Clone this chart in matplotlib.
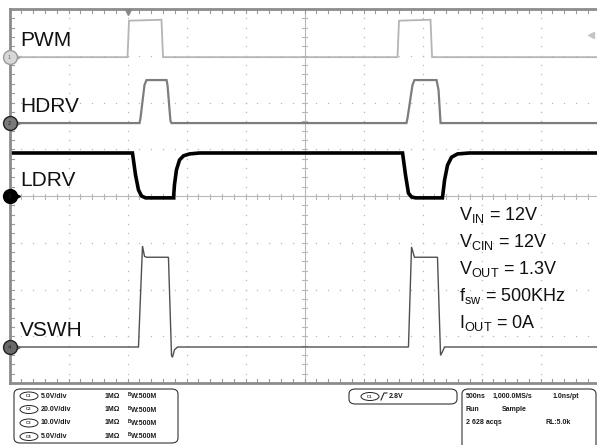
import matplotlib
matplotlib.use("Agg")
import matplotlib.pyplot as plt
from matplotlib.patches import FancyBboxPatch, Ellipse
from matplotlib.lines import Line2D

plt.rcParams['font.family'] = ['Liberation Sans', 'DejaVu Sans']
plt.rcParams['mathtext.fontset'] = 'custom'
plt.rcParams['mathtext.rm'] = 'Liberation Sans'
plt.rcParams['mathtext.it'] = 'Liberation Sans'

# ---- scope settings ----
ns_per_div = 500
volts_per_div = [5.0, 20.0, 10.0, 5.0]
offsets_div = [2.97, 1.56, 0.0, -3.23]      # channel ground positions (divisions)
channel_names = ["PWM", "HDRV", "LDRV", "VSWH"]

# ---- waveform data (time in ns from left edge, volts) ----
pwm_t = [0, 1000, 1013, 1288, 1301, 3288, 3301, 3568, 3581, 5000]
pwm_v = [0, 0, 3.9, 4.0, 0, 0, 3.9, 4.0, 0, 0]

hdrv_t = [0, 1102, 1110, 1144, 1161, 1331, 1339, 1364, 1373,
          3364, 3373, 3415, 3432, 3619, 3636, 3653, 5000]
hdrv_v = [0, 0, 2.1, 16.3, 18.4, 18.4, 16.3, 0.9, 0,
          0, 2.1, 16.3, 18.4, 18.4, 14.1, 0, 0]

ldrv_t = [0, 1042, 1068, 1093, 1119, 1153, 1390, 1398, 1415, 1441, 1475, 1525, 1610,
          3331, 3356, 3381, 3407, 3441, 3669, 3687, 3712, 3746, 3797, 3898, 5000]
ldrv_v = [9.2, 9.2, 4.5, 1.3, 0.0, -0.4, -0.4, 2.4, 5.6, 7.7, 8.6, 9.0, 9.2,
          9.2, 4.5, 0.6, -0.2, -0.4, -0.4, 3.4, 6.6, 8.3, 9.0, 9.2, 9.2]

vswh_t = [0, 1093, 1127, 1144, 1161, 1347, 1373, 1381, 1398, 1424,
          3381, 3407, 3432, 3627, 3653, 3669, 3687, 5000]
vswh_v = [0, 0, 10.8, 9.7, 9.6, 9.6, -0.9, -1.1, -0.3, 0,
          0, 10.7, 9.6, 9.6, -0.9, -0.5, 0, 0]

trigger_t = 1000
trigger_level = 2.8

annotations = [r"V$_{\rm IN}$ = 12V", r"V$_{\rm CIN}$ = 12V", r"V$_{\rm OUT}$ = 1.3V",
               r"f$_{\rm sw}$ = 500KHz", r"I$_{\rm OUT}$ = 0A"]

# ---- figure ----
W, H = 597, 445
fig = plt.figure(figsize=(W / 100, H / 100), dpi=100)
fig.patch.set_facecolor("white")
ax = fig.add_axes([9.5 / W, 1 - 383 / H, 590 / W, 374 / H])
ax.set_xlim(0, 10)
ax.set_ylim(-4, 4)
ax.set_xticks([]); ax.set_yticks([])
for s in ax.spines.values():
    s.set_color("#8c8c8c"); s.set_linewidth(2)

gridc = "#b8b8b8"
# dotted graticule
for i in range(1, 10):
    if i == 5:
        continue
    ys = [-4 + k * 0.2 for k in range(41)]
    ax.plot([i] * len(ys), ys, ls="none", marker="s", ms=0.9, color=gridc, mew=0)
for j in range(-3, 4):
    if j == 0:
        continue
    xs = [k * 0.2 for k in range(51)]
    ax.plot(xs, [j] * len(xs), ls="none", marker="s", ms=0.9, color=gridc, mew=0)
# center crosshair
ax.axvline(5, color=gridc, lw=0.8)
ax.axhline(0, color=gridc, lw=0.8)
tx = 2.5 / 59
ty = 2.5 / 46.75
for k in range(51):
    x = k * 0.2
    ax.plot([x, x], [-ty, ty], color=gridc, lw=0.8)
    ax.plot([x, x], [-4, -4 + 1.6 * ty], color="#999999", lw=0.8)
    ax.plot([x, x], [4, 4 - 1.6 * ty], color="#999999", lw=0.8)
for k in range(41):
    y = -4 + k * 0.2
    ax.plot([5 - tx, 5 + tx], [y, y], color=gridc, lw=0.8)
    ax.plot([0, 1.6 * tx], [y, y], color="#999999", lw=0.8)

# ---- traces ----
def to_div(ts, vs, ch):
    return ([t / ns_per_div for t in ts],
            [offsets_div[ch] + v / volts_per_div[ch] for v in vs])

colors = ["#b5b5b5", "#7d7d7d", "#000000", "#505050"]
widths = [1.3, 1.6, 2.6, 1.0]
for ch, (ts, vs) in enumerate([(pwm_t, pwm_v), (hdrv_t, hdrv_v),
                               (ldrv_t, ldrv_v), (vswh_t, vswh_v)]):
    xs, ys = to_div(ts, vs, ch)
    ax.plot(xs, ys, color=colors[ch], lw=widths[ch], solid_joinstyle="miter")

# channel ground markers
mfc = ["#d8d8d8", "#7a7a7a", "#000000", "#6a6a6a"]
mec = ["#9a9a9a", "#202020", "#000000", "#202020"]
for ch in range(4):
    y = offsets_div[ch]
    ax.plot([0.12], [y], marker=">", ms=4, color=mfc[ch] if ch != 0 else "#aaaaaa",
            clip_on=False, zorder=5)
    ax.plot([0], [y], marker="o", ms=10, mfc=mfc[ch], mec=mec[ch], mew=1,
            clip_on=False, zorder=6)
    ax.text(0, y, str(ch + 1), fontsize=4, ha="center", va="center",
            color="#666666" if ch == 0 else "#222222", zorder=7, clip_on=False)

# trigger markers
ax.plot([trigger_t / ns_per_div], [3.93], marker="v", ms=5, color="#888888",
        clip_on=False, zorder=6)
ax.plot([9.86], [offsets_div[0] + trigger_level / volts_per_div[0] - 0.08], marker="<",
        ms=4, color="#c4c4c4", clip_on=False, zorder=6)

# channel labels
label_y = [40, 106, 180, 330]
for name, py in zip(channel_names, label_y):
    fig.text(20 / W, 1 - py / H, name, fontsize=15, ha="left", va="center",
             color="#111111")

# condition annotations
base_y = [220, 247, 274, 301, 328]
for txt, py in zip(annotations, base_y):
    fig.text(459 / W, 1 - py / H, txt, fontsize=13, ha="left", va="baseline",
             color="#111111")

# ---- bottom status panel ----
def box(x0, y0, x1, y1):
    p = FancyBboxPatch((x0 / W, 1 - y1 / H), (x1 - x0) / W, (y1 - y0) / H,
                       boxstyle="round,pad=0,rounding_size=0.011",
                       transform=fig.transFigure, fc="white", ec="#333333", lw=0.8,
                       clip_on=False)
    fig.add_artist(p)

box(14, 389, 178, 443)
box(349, 389, 457, 404)
box(462, 389, 596, 452)

tc = "#1a1a1a"

def badge(cx, py, label):
    e = Ellipse((cx / W, 1 - py / H), 18 / W, 8 / H, transform=fig.transFigure,
                fc="white", ec="#222222", lw=0.7)
    fig.add_artist(e)
    fig.text(cx / W, 1 - py / H, label, fontsize=3.2, ha="center", va="center",
             weight="bold", color="#333333")

fs = 5
row_y = [396, 409.5, 423, 436.5]
scale_txt = ["5.0V/div", "20.0V/div", "10.0V/div", "5.0V/div"]
for i, py in enumerate(row_y):
    badge(29, py, "C%d" % (i + 1))
    fig.text(41 / W, 1 - py / H, scale_txt[i], fontsize=fs, weight="bold",
             ha="left", va="center", color=tc)
    fig.text(105 / W, 1 - py / H, "1M\u03a9", fontsize=fs, weight="bold",
             ha="left", va="center", color=tc)
    fig.text(127.5 / W, 1 - (py - 1.5) / H, "B", fontsize=3.3, weight="bold",
             ha="left", va="center", color=tc)
    fig.text(131 / W, 1 - (py + 0.5) / H, "W:500M", fontsize=fs, weight="bold",
             ha="left", va="center", color=tc)

badge(370, 396.5, "C1")
fig.add_artist(Line2D([381 / W, 384 / W, 387 / W], [1 - 400 / H, 1 - 393 / H, 1 - 393 / H],
                      transform=fig.transFigure, color="#222222", lw=0.8))
fig.text(389 / W, 1 - 396.5 / H, "2.8V", fontsize=fs, weight="bold", ha="left",
         va="center", color=tc)

right_rows = [(466, 396, "500ns"), (493, 396, "1,000.0MS/s"), (553, 396, "1.0ns/pt"),
              (466, 409.5, "Run"), (502, 409.5, "Sample"),
              (466, 423, "2 628 acqs"), (545, 423, "RL:5.0k")]
for px, py, t in right_rows:
    fig.text(px / W, 1 - py / H, t, fontsize=fs, weight="bold", ha="left",
             va="center", color=tc)

fig.savefig("out.png", dpi=100)
